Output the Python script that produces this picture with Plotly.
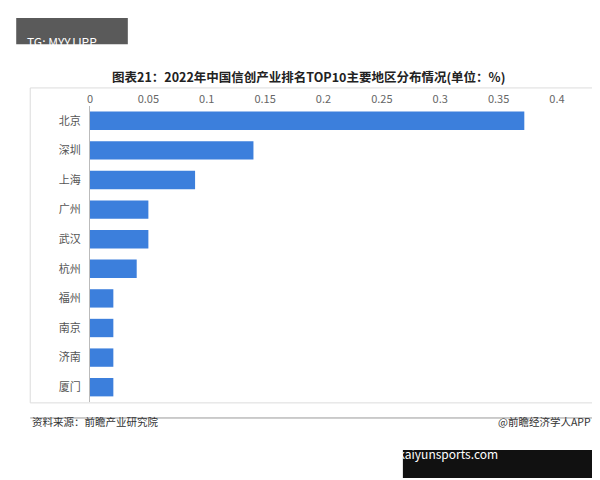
import plotly.graph_objects as go

cities = ['北京', '深圳', '上海', '广州', '武汉', '杭州', '福州', '南京', '济南', '厦门']
shares = [0.372, 0.14, 0.09, 0.05, 0.05, 0.04, 0.02, 0.02, 0.02, 0.02]
tick_vals = [0, 0.05, 0.1, 0.15, 0.2, 0.25, 0.3, 0.35, 0.4]
tick_text = ['0', '0.05', '0.1', '0.15', '0.2', '0.25', '0.3', '0.35', '0.4']

font = 'Noto Sans CJK SC'

fig = go.Figure(go.Bar(
    x=shares, y=cities, orientation='h',
    marker=dict(color='#3c7fdc', line=dict(width=0)),
    width=0.62,
))

fig.update_layout(
    width=600, height=480,
    margin=dict(l=82, r=51, t=98, b=86),
    paper_bgcolor='white', plot_bgcolor='white',
    font=dict(family=font, size=11, color='#555'),
    showlegend=False,
    xaxis=dict(side='top', range=[0, 0.4], tickvals=tick_vals, ticktext=tick_text,
               showgrid=False, zeroline=False, showline=False, ticks='', automargin=False,
               tickfont=dict(size=11, color='#666')),
    yaxis=dict(autorange='reversed', showgrid=False, zeroline=False, automargin=False,
               showline=True, linecolor='#bbb', ticks='', ticklabelstandoff=6,
               tickfont=dict(size=11, color='#555')),
    shapes=[
        dict(type='rect', xref='paper', yref='paper', x0=-0.128, x1=1.077, y0=-0.003, y1=1.061,
             line=dict(color='#dcdcdc', width=1)),
        dict(type='line', xref='paper', yref='paper', x0=-0.128, x1=1.077, y0=-0.054, y1=-0.054,
             line=dict(color='#999', width=1)),
        dict(type='rect', xref='paper', yref='paper', x0=-0.158, x1=0.081, y0=1.209, y1=1.297,
             fillcolor='#5a5a5a', line=dict(width=0)),
        dict(type='rect', xref='paper', yref='paper', x0=0.67, x1=1.088, y0=-0.257, y1=-0.162,
             fillcolor='#111', line=dict(width=0)),
    ],
    annotations=[
        dict(text='<b>图表21：2022年中国信创产业排名TOP10主要地区分布情况(单位：%)</b>',
             xref='paper', yref='paper', x=0.467, y=1.139, showarrow=False,
             font=dict(size=12.5, color='#222', family=font)),
        dict(text='TG: MYYJJPP', xref='paper', yref='paper', x=-0.14, y=1.253,
             xanchor='left', showarrow=False, font=dict(size=12, color='white', family=font)),
        dict(text='资料来源：前瞻产业研究院', xref='paper', yref='paper', x=-0.128, y=-0.098,
             xanchor='left', showarrow=False, font=dict(size=10.5, color='#333', family=font)),
        dict(text='@前瞻经济学人APP', xref='paper', yref='paper', x=1.077, y=-0.098,
             xanchor='right', showarrow=False, font=dict(size=10.5, color='#333', family=font)),
        dict(text='www.zn-pc-kaiyunsports.com', xref='paper', yref='paper', x=0.878, y=-0.209,
             showarrow=False, font=dict(size=12, color='white', family=font)),
    ],
)

fig.write_html('out.html')
